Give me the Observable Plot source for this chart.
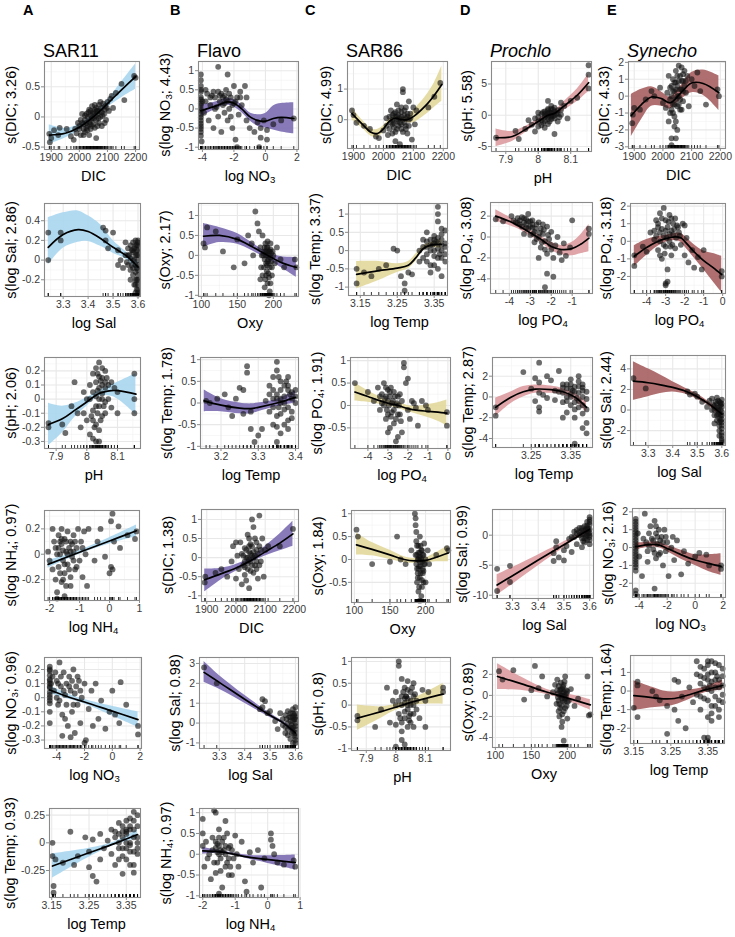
<!DOCTYPE html>
<html>
<head>
<meta charset="utf-8">
<script src="https://cdn.jsdelivr.net/npm/d3@7"></script>
<script src="https://cdn.jsdelivr.net/npm/@observablehq/plot@0.6"></script>
<style>
  body { margin: 0; background: #fff; }
  #fig { position: relative; width: 735px; height: 937px; overflow: hidden;
         font-family: "Liberation Sans", Arial, Helvetica, sans-serif; color: #000; }
  .lbl { position: absolute; white-space: nowrap; line-height: 1; }
  .tag { font-weight: bold; font-size: 14.5px; }
  .ttl { font-size: 18px; }
  .xt { font-size: 14.5px; transform: translate(-50%, -50%); }
  .yt { font-size: 14.5px; transform: translate(-50%, -50%) rotate(-90deg); }
  sub { font-size: 0.66em; vertical-align: -0.28em; line-height: 0; }
  svg { position: absolute; }
</style>
</head>
<body>
<div id="fig"></div>
<script>
// ---------- tick labels ----------
const dicTicks = [1900, 2000, 2100, 2200];
const no3Ticks = [-4, -2, 0, 2];
const salTicks = [3.3, 3.4, 3.5, 3.6];
const oxyTicks = [100, 150, 200];
const tempTicks = [3.15, 3.25, 3.35];
const tempTicksB = [3.2, 3.3, 3.4];
const tempTicksD = [3.25, 3.35];
const phTicks = [7.9, 8, 8.1];
const po4Ticks = [-4, -3, -2, -1, 0];
const po4TicksD = [-4, -3, -2, -1];
const nh4Ticks = [-2, -1, 0, 1];

// ---------- column headers ----------
const columnTags = ["A", "B", "C", "D", "E"];
const columnTaxa = ["SAR11", "Flavo", "SAR86", "Prochlo", "Synecho"];

// Each smooth: [x, fit, lower, upper]; each residual: [x, partial residual]

// ---------- SAR11 ----------
const sar11DicFit = [[1893,-0.30,-0.45,-0.13],[1950,-0.27,-0.35,-0.19],[2000,-0.17,-0.22,-0.12],[2050,0.0,-0.04,0.04],[2100,0.22,0.16,0.28],[2150,0.45,0.32,0.58],[2200,0.67,0.46,0.88]];
const sar11DicPts = [[1893,-0.28],[1895,-0.42],[1900,-0.35],[1910,-0.22],[1925,-0.3],[1930,-0.18],[1955,-0.2],[1970,-0.32],[1980,-0.38],[1985,-0.2],[1990,-0.27],[2000,-0.15],[2005,-0.3],[2010,-0.1],[2015,-0.2],[2020,-0.05],[2020,-0.25],[2025,0.05],[2030,-0.15],[2030,0.0],[2035,-0.08],[2040,0.1],[2040,-0.2],[2045,-0.02],[2050,0.08],[2050,-0.12],[2055,0.12],[2060,-0.05],[2060,0.15],[2065,0.05],[2070,-0.1],[2070,0.2],[2075,0.0],[2080,0.08],[2085,0.22],[2090,0.12],[2095,-0.05],[2100,0.25],[2105,0.1],[2110,0.3],[2115,0.35],[2120,0.15],[2130,0.4],[2150,0.55],[2160,0.28],[2195,0.68],[2200,0.65],[2060,-0.35],[2045,0.18],[2000,-0.2],[2035,-0.3],[2010,0.05],[2080,-0.15],[2025,-0.1],[2055,-0.18],[2065,0.1],[2040,0.03],
  [2005,-0.05],[2015,-0.12],[2020,0.02],[2028,-0.22],[2032,0.08],[2038,-0.12],[2042,-0.05],[2048,0.05],[2052,-0.02],[2058,0.02],[2062,0.1],[2068,-0.02],[2072,0.1],[2078,0.15],[2082,0.02],[2088,0.05],[2092,0.18],[2098,0.15],[2035,0.12],[2025,-0.18],[2045,-0.15],[2055,0.2],[2075,0.25],[2090,-0.1],[2015,-0.3],[1995,-0.1],[2065,-0.15]];

const sar11SalFit = [[3.24,0.13,-0.05,0.43],[3.3,0.26,0.12,0.48],[3.36,0.31,0.18,0.5],[3.4,0.29,0.19,0.45],[3.45,0.22,0.14,0.36],[3.5,0.13,0.07,0.2],[3.55,0.05,0.01,0.09],[3.6,-0.07,-0.12,-0.02]];
const sar11SalPts = [[3.24,0.28],[3.24,0.0],[3.29,0.28],[3.29,0.2],[3.46,0.33],[3.47,0.3],[3.47,0.2],[3.5,0.28],[3.52,0.1],[3.53,0.0],[3.55,0.18],[3.56,0.05],[3.56,-0.05],[3.57,0.15],[3.57,-0.1],[3.58,0.1],[3.58,0.0],[3.58,-0.15],[3.59,0.2],[3.59,0.05],[3.59,-0.05],[3.59,-0.2],[3.6,0.15],[3.6,0.05],[3.6,-0.05],[3.6,-0.15],[3.6,-0.25],[3.6,-0.33],[3.595,-0.3],[3.59,-0.12],[3.58,0.08],[3.57,0.02],[3.54,-0.08],[3.48,0.12],[3.52,-0.05],[3.6,0.2],[3.595,0.1],[3.585,-0.25],[3.6,-0.1],
  [3.6,0.1],[3.6,0.0],[3.6,-0.2],[3.6,-0.3],[3.595,-0.2],[3.595,-0.08],[3.595,0.05],[3.59,0.15],[3.59,-0.25],[3.585,0.12],[3.585,0.0],[3.58,-0.08],[3.58,0.18],[3.575,-0.05],[3.575,0.1],[3.57,-0.2],[3.565,0.05],[3.56,0.12],[3.555,-0.02],[3.55,0.05],[3.6,-0.35],[3.59,-0.33],[3.6,0.18],[3.595,0.15]];

const sar11PhFit = [[7.875,-0.18,-0.33,-0.03],[7.92,-0.14,-0.24,-0.05],[7.96,-0.08,-0.13,-0.03],[8.0,-0.02,-0.05,0.01],[8.04,0.04,0.02,0.06],[8.08,0.06,0.02,0.1],[8.1,0.06,0.0,0.12],[8.13,0.05,-0.05,0.15],[8.16,0.035,-0.11,0.18]];
const sar11PhPts = [[7.875,-0.2],[7.875,-0.17],[7.92,-0.18],[7.93,-0.24],[7.95,-0.05],[7.96,0.12],[7.97,-0.1],[7.98,-0.2],[7.99,0.05],[8.0,-0.15],[8.0,0.0],[8.01,-0.25],[8.01,0.1],[8.02,-0.08],[8.02,0.18],[8.03,0.02],[8.03,-0.3],[8.03,-0.18],[8.04,0.08],[8.04,0.26],[8.04,-0.05],[8.05,0.15],[8.05,-0.12],[8.05,0.04],[8.06,0.2],[8.06,-0.02],[8.07,0.1],[8.08,-0.06],[8.09,0.08],[8.1,0.05],[8.1,-0.1],[8.155,0.18],[8.155,0.0],[8.155,-0.1],[8.02,-0.28],[8.04,-0.22],[8.06,0.12],[8.03,0.22],[8.045,0.13],[8.035,-0.1],
  [8.01,0.0],[8.015,-0.12],[8.02,0.05],[8.025,-0.2],[8.03,0.12],[8.035,0.06],[8.04,0.0],[8.04,0.16],[8.045,-0.15],[8.05,0.1],[8.05,0.22],[8.055,-0.05],[8.06,0.08],[8.065,0.15],[8.07,0.0],[8.03,-0.05],[8.02,-0.15],[8.04,-0.3],[8.06,-0.1],[8.05,0.0],[8.035,0.18],[7.99,-0.1],[8.08,0.12]];

const sar11Nh4Fit = [[-2.05,-0.08,-0.11,-0.05],[-1,0.015,0.0,0.03],[0,0.105,0.08,0.13],[0.9,0.185,0.14,0.23]];
const sar11Nh4Pts = [[-2.05,0.02],[-2.0,-0.05],[-1.9,-0.12],[-1.85,0.1],[-1.8,-0.2],[-1.8,0.05],[-1.75,-0.3],[-1.7,0.15],[-1.7,-0.1],[-1.65,0.0],[-1.6,-0.22],[-1.6,0.08],[-1.55,-0.05],[-1.5,0.12],[-1.5,-0.15],[-1.45,0.02],[-1.4,0.18],[-1.4,-0.08],[-1.35,0.05],[-1.3,-0.25],[-1.3,0.1],[-1.25,-0.02],[-1.2,0.15],[-1.15,-0.12],[-1.1,0.05],[-1.05,0.2],[-1.0,-0.05],[-0.95,0.1],[-0.9,-0.18],[-0.85,0.18],[-0.8,0.0],[-0.75,-0.25],[-0.7,0.2],[-0.5,-0.05],[-0.4,0.1],[-0.3,0.2],[-0.15,-0.02],[0.0,-0.15],[0.05,0.26],[0.05,-0.1],[0.1,0.32],[0.1,-0.12],[0.15,0.1],[0.3,0.22],[0.35,0.05],[0.6,0.15],[0.85,0.12],[0.9,0.18],[-1.75,-0.35],[-1.5,-0.33],[-1.9,0.2],[-1.6,0.2],
  [-1.75,0.0],[-1.7,0.05],[-1.65,-0.15],[-1.6,0.12],[-1.55,0.03],[-1.5,-0.08],[-1.45,0.1],[-1.4,0.0],[-1.35,-0.12],[-1.3,0.02],[-1.25,0.08],[-1.2,-0.05],[-1.15,0.1],[-1.1,-0.1],[-1.55,-0.2],[-1.45,-0.25],[-1.3,-0.18],[-1.65,0.1],[-1.2,0.02],[-0.9,0.05]];

const sar11No3Fit = [[-4.5,0.055,0.03,0.085],[-3,0.0,-0.015,0.02],[-2,-0.03,-0.045,-0.012],[0,-0.095,-0.13,-0.06],[1.85,-0.155,-0.21,-0.1]];
const sar11No3Pts = [[-4.5,0.22],[-4.5,0.19],[-4.5,0.16],[-4.5,0.13],[-4.5,0.1],[-4.5,0.07],[-4.5,0.04],[-4.5,0.0],[-4.5,-0.04],[-4.5,-0.1],[-4.5,-0.18],[-4.3,0.15],[-4.2,0.05],[-4.0,0.12],[-3.9,-0.05],[-3.8,0.25],[-3.7,0.08],[-3.6,-0.12],[-3.5,0.18],[-3.4,0.02],[-3.3,0.1],[-3.2,-0.2],[-3.1,0.15],[-3.0,-0.28],[-3.0,0.05],[-2.9,-0.1],[-2.8,0.2],[-2.7,-0.25],[-2.6,0.08],[-2.5,-0.05],[-2.4,0.12],[-2.3,-0.18],[-2.2,0.0],[-2.0,0.1],[-1.9,-0.3],[-1.7,-0.08],[-1.5,0.05],[-1.4,-0.2],[-1.2,0.1],[-1.0,-0.15],[-0.8,-0.02],[-0.5,-0.22],[-0.2,-0.1],[0.0,0.05],[0.2,-0.12],[0.5,-0.18],[0.6,0.11],[1.0,-0.05],[1.85,-0.2],[1.85,-0.26],[-2.0,-0.32],[-3.6,-0.27],
  [-4.5,0.2],[-4.5,0.12],[-4.5,0.08],[-4.5,0.02],[-4.5,-0.02],[-4.4,0.1],[-4.1,0.18],[-3.9,0.1],[-3.7,0.15],[-3.5,0.05],[-3.3,-0.05],[-3.1,0.08],[-2.9,0.12],[-2.7,0.03],[-2.5,0.15],[-2.3,0.05],[-3.8,-0.02],[-3.4,-0.15],[-2.8,-0.05],[-4.0,0.0]];

const sar11TempFit = [[3.152,-0.21,-0.32,-0.1],[3.25,-0.09,-0.13,-0.05],[3.32,-0.005,-0.02,0.01],[3.38,0.075,0.04,0.12]];
const sar11TempPts = [[3.152,0.0],[3.152,-0.12],[3.155,-0.45],[3.155,-0.39],[3.16,-0.15],[3.18,-0.18],[3.2,0.1],[3.21,-0.2],[3.22,-0.12],[3.24,0.05],[3.25,-0.08],[3.25,-0.22],[3.26,0.03],[3.26,-0.3],[3.27,-0.35],[3.28,-0.15],[3.28,0.08],[3.29,-0.05],[3.3,0.02],[3.31,0.12],[3.31,-0.1],[3.32,0.05],[3.32,-0.2],[3.33,0.18],[3.33,-0.05],[3.34,0.1],[3.34,-0.28],[3.35,0.2],[3.35,0.0],[3.35,-0.15],[3.36,0.12],[3.36,-0.08],[3.37,0.28],[3.37,0.05],[3.37,-0.2],[3.38,0.15],[3.38,-0.05],[3.38,0.25],[3.36,0.22],[3.34,-0.12],[3.37,-0.27],[3.33,0.08],[3.35,0.1],[3.36,-0.02],
  [3.33,0.0],[3.34,0.05],[3.34,0.15],[3.35,0.08],[3.35,-0.05],[3.36,0.0],[3.36,0.15],[3.37,0.12],[3.37,-0.08],[3.38,0.05],[3.38,-0.1],[3.35,0.12],[3.33,-0.15],[3.36,-0.2],[3.32,0.1],[3.37,0.2],[3.38,0.0],[3.34,-0.05]];

// ---------- Flavo ----------
const flavoNo3Fit = [[-4.1,-0.05,-0.2,0.1],[-3,0.1,0.02,0.2],[-2.5,0.18,0.1,0.28],[-2,0.15,0.05,0.25],[-1.5,0.0,-0.1,0.1],[-1,-0.2,-0.3,-0.1],[-0.5,-0.3,-0.45,-0.15],[0,-0.32,-0.5,-0.12],[0.5,-0.25,-0.55,0.08],[1,-0.22,-0.6,0.14],[1.8,-0.25,-0.65,0.16]];
const flavoNo3Pts = [[-4.1,0.9],[-4.1,0.6],[-4.1,0.45],[-4.1,0.3],[-4.1,0.15],[-4.1,0.0],[-4.1,-0.15],[-4.1,-0.3],[-4.1,-0.45],[-4.1,-0.6],[-4.1,-0.7],[-4.05,-0.85],[-4.0,0.2],[-3.9,-0.1],[-3.8,0.5],[-3.7,0.4],[-3.6,-0.3],[-3.5,0.1],[-3.4,0.35],[-3.3,-0.5],[-3.2,0.3],[-3.1,0.05],[-3.0,0.45],[-3.0,-0.2],[-2.9,0.2],[-2.8,0.4],[-2.8,-0.6],[-2.7,0.1],[-2.6,0.35],[-2.6,-0.1],[-2.5,0.5],[-2.5,0.25],[-2.4,-0.3],[-2.3,0.0],[-2.2,0.3],[-2.1,-0.5],[-2.0,0.6],[-2.0,0.15],[-1.9,-0.8],[-1.8,0.3],[-1.7,-0.15],[-1.6,0.45],[-1.5,0.1],[-1.3,0.6],[-1.2,0.3],[-1.2,-0.3],[-1.0,-0.5],[-0.7,-0.6],[-0.5,-0.35],[-0.3,-0.5],[-0.3,-0.75],[0.1,-0.55],[0.1,-0.8],[-0.1,-0.3],[0.5,-0.4],[1.0,-0.3],[1.8,-0.25],[-3.0,1.1],[-2.4,0.9],[-1.8,-1.0],[-0.4,-1.0],
  [-4.1,0.75],[-4.1,0.5],[-4.1,0.25],[-4.1,0.1],[-4.1,-0.05],[-4.1,-0.22],[-4.1,-0.38],[-4.1,-0.52],[-3.8,0.2],[-3.5,0.3],[-3.2,0.0],[-2.9,0.35],[-2.7,0.3],[-2.6,0.15],[-2.4,0.2],[-2.3,0.4],[-2.1,0.1],[-1.9,0.2],[-1.6,0.3],[-3.3,0.45],[-2.2,-0.2]];

const flavoOxyFit = [[103,0.48,0.2,0.8],[125,0.5,0.32,0.7],[150,0.4,0.28,0.55],[170,0.22,0.12,0.32],[190,0.02,-0.07,0.1],[210,-0.17,-0.3,-0.03],[232,-0.3,-0.55,-0.05]];
const flavoOxyPts = [[103,0.3],[105,0.2],[108,0.7],[120,0.6],[150,0.4],[165,0.5],[170,0.3],[172,0.0],[175,1.1],[178,0.8],[180,0.6],[182,0.2],[183,-0.3],[185,0.5],[185,-0.5],[187,0.1],[188,-0.1],[189,0.3],[190,-0.2],[190,0.0],[191,-0.4],[192,0.2],[192,-0.7],[193,-0.1],[194,0.1],[195,-0.3],[195,-0.9],[196,0.3],[197,-0.15],[198,-0.5],[200,0.0],[202,-0.2],[205,0.2],[210,-0.1],[215,-0.3],[230,-0.1],[232,-0.3],[145,-0.3],[160,-0.2],[130,0.1],[191,0.1],[194,-0.55],[196,-0.05],[189,-0.6],
  [186,0.0],[187,-0.3],[188,0.2],[189,0.1],[190,-0.5],[191,0.2],[191,-0.25],[192,0.35],[192,-0.15],[193,0.0],[193,-0.45],[194,-0.2],[195,0.1],[196,-0.7],[196,0.15],[197,0.05],[198,-0.3],[199,0.1],[188,-0.8],[194,-1.0],[184,0.0],[182,-0.6]];

const flavoTempFit = [[3.155,0.05,-0.2,0.3],[3.2,-0.05,-0.2,0.1],[3.25,-0.12,-0.25,0.0],[3.28,-0.13,-0.25,-0.02],[3.3,-0.1,-0.2,0.0],[3.35,0.0,-0.08,0.08],[3.4,0.13,0.0,0.28]];
const flavoTempPts = [[3.16,0.05],[3.17,0.0],[3.19,0.1],[3.21,0.2],[3.22,-0.1],[3.23,-0.3],[3.24,0.1],[3.25,0.35],[3.26,-0.25],[3.26,0.3],[3.27,0.85],[3.27,0.7],[3.28,-0.6],[3.28,-0.2],[3.29,-0.9],[3.3,-0.75],[3.31,-0.6],[3.32,0.05],[3.33,0.4],[3.33,-0.2],[3.34,0.6],[3.34,0.1],[3.34,-0.5],[3.35,0.95],[3.35,0.75],[3.35,0.2],[3.35,-0.3],[3.36,0.0],[3.36,-0.7],[3.37,0.4],[3.37,-0.15],[3.38,0.3],[3.38,-0.4],[3.39,0.1],[3.39,-0.2],[3.4,0.3],[3.4,0.0],[3.35,-0.9],[3.36,0.5],[3.38,0.6],[3.37,-0.5],[3.355,-0.1],[3.385,0.2],
  [3.34,-0.1],[3.35,0.1],[3.35,-0.55],[3.36,0.3],[3.36,-0.25],[3.37,0.15],[3.37,0.0],[3.38,-0.1],[3.38,0.4],[3.39,0.25],[3.39,-0.35],[3.4,0.15],[3.33,0.2],[3.34,0.3],[3.36,0.1],[3.38,-0.6],[3.355,0.6],[3.375,0.5]];

const flavoDicFit = [[1893,-0.58,-0.9,-0.3],[1950,-0.42,-0.58,-0.28],[2000,-0.27,-0.36,-0.18],[2050,-0.08,-0.14,-0.02],[2100,0.15,0.04,0.3],[2150,0.38,0.18,0.62],[2195,0.62,0.3,0.95]];
const flavoDicPts = [[1893,-0.65],[1895,-0.5],[1930,-0.4],[1950,-0.3],[1970,-0.5],[1985,-0.1],[1990,0.3],[2000,-0.55],[2005,0.05],[2010,-0.3],[2015,0.4],[2020,-0.7],[2020,0.1],[2025,-0.2],[2030,0.25],[2030,-0.45],[2035,0.0],[2040,0.6],[2040,-0.3],[2045,0.15],[2045,-0.8],[2050,0.35],[2050,-0.1],[2055,1.0],[2055,0.05],[2060,-0.4],[2065,0.5],[2065,-0.2],[2070,0.2],[2075,-0.55],[2080,1.1],[2080,0.3],[2085,-0.1],[2090,0.5],[2095,-0.5],[2100,0.2],[2110,0.3],[2150,0.3],[2195,0.75],[2000,0.4],[2060,0.8],[2035,-0.6],[2045,-0.05],[2070,-0.1],
  [2025,0.05],[2030,-0.1],[2035,0.2],[2040,0.0],[2040,-0.15],[2045,0.3],[2050,0.1],[2050,-0.35],[2055,-0.2],[2060,0.15],[2060,0.0],[2065,0.05],[2070,-0.3],[2070,0.4],[2075,0.1],[2080,-0.2],[2085,0.2],[2045,0.5],[2030,-0.25],[2055,0.3]];

const flavoSalFit = [[3.24,2.55,2.05,3.1],[3.3,2.05,1.7,2.4],[3.4,1.2,1.0,1.4],[3.5,0.39,0.28,0.5],[3.55,0.02,-0.05,0.1],[3.6,-0.5,-0.65,-0.35]];
const flavoSalPts = [[3.24,2.8],[3.29,2.0],[3.46,0.7],[3.47,1.2],[3.47,0.8],[3.48,1.1],[3.49,0.5],[3.5,0.6],[3.52,0.1],[3.53,-0.3],[3.54,0.5],[3.55,0.2],[3.55,-0.1],[3.56,0.4],[3.56,-0.5],[3.57,0.0],[3.57,0.6],[3.58,-0.2],[3.58,0.3],[3.58,-0.8],[3.59,0.1],[3.59,0.7],[3.59,-0.4],[3.6,0.5],[3.6,0.0],[3.6,-0.3],[3.6,-0.7],[3.6,-1.0],[3.6,0.8],[3.59,-1.0],[3.58,0.5],[3.57,-0.6],[3.595,0.2],[3.585,-0.1],
  [3.6,0.3],[3.6,-0.15],[3.6,-0.5],[3.6,0.2],[3.595,-0.6],[3.595,0.4],[3.59,-0.2],[3.59,0.3],[3.585,-0.5],[3.58,0.1],[3.575,0.3],[3.57,-0.3],[3.565,0.2],[3.56,-0.2],[3.6,-0.85],[3.59,0.5]];

const flavoNh4Fit = [[-2.0,0.08,0.0,0.16],[-1.4,0.05,0.02,0.08],[-0.5,-0.08,-0.13,-0.03],[0.85,-0.2,-0.38,-0.02]];
const flavoNh4Pts = [[-2.0,0.85],[-2.0,0.5],[-2.0,0.2],[-1.95,-0.3],[-1.9,0.3],[-1.85,-0.1],[-1.8,0.0],[-1.75,-0.6],[-1.7,0.4],[-1.65,1.05],[-1.6,1.0],[-1.6,0.15],[-1.55,-0.2],[-1.5,0.6],[-1.5,0.0],[-1.45,-0.4],[-1.4,0.3],[-1.4,-0.8],[-1.35,0.1],[-1.3,-0.3],[-1.25,0.5],[-1.2,-0.1],[-1.15,0.2],[-1.1,-0.5],[-1.0,0.45],[-0.95,0.0],[-0.9,-0.3],[-0.8,0.3],[-0.7,-0.65],[-0.65,-0.9],[-0.55,0.05],[-0.45,-0.2],[-0.3,0.1],[-0.2,-0.8],[-0.1,-0.1],[0.1,0.5],[0.1,0.35],[0.15,0.2],[0.2,0.0],[0.3,-0.2],[0.5,-0.25],[0.8,-0.15],[0.85,-0.3],[-1.5,-0.95],[-1.3,0.8],[-1.55,0.25],[-1.45,0.1],
  [-1.7,0.1],[-1.65,-0.2],[-1.6,0.3],[-1.55,0.05],[-1.5,0.2],[-1.45,-0.1],[-1.4,0.05],[-1.35,0.4],[-1.3,0.0],[-1.25,-0.2],[-1.2,0.15],[-1.15,-0.3],[-1.1,0.1],[-1.05,-0.1],[-1.6,-0.45],[-1.5,0.4],[-1.3,0.2],[-1.2,-0.5]];

// ---------- SAR86 ----------
const sar86DicFit = [[1895,0.2,0.0,0.38],[1930,-0.15,-0.28,-0.02],[1960,-0.42,-0.55,-0.3],[1980,-0.45,-0.58,-0.32],[2000,-0.3,-0.4,-0.2],[2020,-0.05,-0.12,0.02],[2040,0.05,0.0,0.1],[2060,0.0,-0.06,0.06],[2080,0.0,-0.1,0.1],[2100,0.1,-0.1,0.3],[2140,0.45,0.15,0.75],[2170,0.8,0.4,1.2],[2195,1.15,0.6,1.75]];
const sar86DicPts = [[1895,0.3],[1900,0.15],[1910,-0.1],[1935,-0.2],[1955,-0.3],[1975,-0.55],[1985,-0.6],[2000,-0.35],[2010,-0.2],[2015,-0.5],[2020,0.1],[2020,-0.3],[2025,0.3],[2030,0.0],[2030,-0.15],[2035,0.2],[2040,-0.4],[2040,0.1],[2045,-0.05],[2050,0.3],[2050,-0.2],[2055,0.05],[2060,0.25],[2060,-0.3],[2065,1.0],[2065,0.9],[2070,0.15],[2070,-0.1],[2075,0.4],[2080,-0.45],[2080,0.2],[2085,0.6],[2085,-0.2],[2090,0.05],[2095,-0.65],[2100,0.4],[2105,-0.15],[2110,0.3],[2150,0.4],[2170,0.75],[2190,1.2],[2040,-0.7],[2055,-0.8],[2010,0.05],[2045,0.5],[2035,-0.1],[2060,0.1],[2075,-0.3],
  [2025,-0.1],[2030,0.15],[2035,-0.25],[2040,0.25],[2045,0.1],[2050,0.0],[2050,0.15],[2055,-0.1],[2060,-0.15],[2060,0.4],[2065,0.0],[2070,0.3],[2075,0.05],[2075,-0.2],[2080,0.1],[2085,0.0],[2090,0.2],[2045,-0.3],[2030,-0.45],[2065,-0.4]];

const sar86TempFit = [[3.14,-0.65,-1.05,-0.3],[3.2,-0.55,-0.82,-0.3],[3.25,-0.48,-0.6,-0.36],[3.28,-0.4,-0.5,-0.3],[3.3,-0.2,-0.3,-0.1],[3.32,0.05,-0.02,0.12],[3.34,0.15,0.08,0.22],[3.37,0.17,0.05,0.3]];
const sar86TempPts = [[3.14,-0.5],[3.14,-0.9],[3.16,-0.6],[3.18,-0.7],[3.2,-0.5],[3.22,-0.4],[3.24,0.05],[3.25,0.0],[3.26,-0.7],[3.27,-0.9],[3.27,-1.1],[3.28,-0.6],[3.29,-0.65],[3.31,-0.3],[3.31,0.0],[3.32,0.3],[3.32,-0.2],[3.33,0.5],[3.33,0.1],[3.34,-0.4],[3.34,0.3],[3.35,0.0],[3.35,-0.15],[3.35,0.4],[3.36,0.2],[3.36,-0.5],[3.36,1.2],[3.36,1.0],[3.37,0.6],[3.37,-0.2],[3.37,0.3],[3.38,0.1],[3.38,-0.3],[3.38,0.55],[3.33,-0.3],[3.34,-0.6],[3.36,0.8],[3.37,-0.7],[3.345,0.15],[3.355,0.25],[3.365,-0.1],
  [3.33,0.25],[3.34,0.0],[3.34,0.15],[3.35,0.2],[3.35,0.3],[3.36,0.05],[3.36,-0.2],[3.37,0.0],[3.37,0.45],[3.38,0.2],[3.38,-0.1],[3.35,-0.4],[3.33,-0.1],[3.36,0.35],[3.37,0.15],[3.32,0.1]];

const sar86Po4Fit = [[-4.65,0.3,0.1,0.5],[-4,0.2,0.07,0.33],[-3.5,0.12,0.03,0.21],[-3,0.05,-0.02,0.12],[-2.5,0.0,-0.06,0.07],[-2,-0.07,-0.14,0.0],[-1.5,-0.11,-0.2,-0.02],[-1,-0.13,-0.27,0.02],[-0.5,-0.15,-0.35,0.06],[-0.05,-0.17,-0.45,0.12]];
const sar86Po4Pts = [[-4.65,0.5],[-4.0,0.3],[-3.7,0.1],[-3.5,0.4],[-3.4,-0.1],[-3.3,0.25],[-3.2,0.5],[-3.2,0.0],[-3.1,-0.3],[-3.0,0.35],[-3.0,0.1],[-2.9,-0.5],[-2.9,0.2],[-2.8,-0.15],[-2.8,0.05],[-2.7,0.3],[-2.7,-0.4],[-2.6,0.0],[-2.5,-0.7],[-2.5,0.2],[-2.4,-0.2],[-2.3,0.1],[-2.2,0.95],[-2.2,0.85],[-2.1,0.5],[-2.0,0.6],[-2.0,-0.1],[-1.9,-0.3],[-1.8,0.1],[-1.7,0.05],[-1.6,-0.05],[-1.5,-0.45],[-1.3,0.1],[-1.1,0.0],[-1.0,-0.1],[-0.05,-0.45],[-0.05,-0.15],[-2.6,-0.8],[-3.0,-0.6],[-2.3,-0.6],[-3.1,0.2],[-2.85,0.4],
  [-3.3,0.05],[-3.1,0.4],[-3.05,-0.1],[-2.95,0.0],[-2.9,0.3],[-2.85,-0.25],[-2.75,0.1],[-2.65,0.2],[-2.6,-0.3],[-2.55,0.05],[-2.45,0.0],[-2.4,0.25],[-2.35,-0.35],[-3.15,0.15],[-2.7,-0.1],[-2.5,-0.2],[-3.4,0.2],[-3.0,-0.2]];

const sar86OxyFit = [[103,0.32,0.1,0.58],[125,0.22,0.08,0.37],[150,0.1,0.0,0.2],[170,0.0,-0.07,0.06],[185,-0.03,-0.08,0.02],[200,-0.02,-0.07,0.03],[215,0.05,-0.05,0.15],[232,0.14,-0.05,0.3]];
const sar86OxyPts = [[103,0.65],[105,0.5],[125,-0.1],[150,-0.05],[160,0.5],[165,0.0],[172,-0.1],[180,0.2],[185,1.0],[186,0.9],[186,0.75],[187,0.4],[188,0.1],[188,-0.2],[189,-0.4],[190,0.3],[190,0.0],[191,-0.6],[191,-0.15],[192,0.15],[193,-0.3],[193,0.05],[194,-0.8],[194,0.2],[195,-0.05],[195,-0.45],[196,0.1],[197,-0.25],[198,0.35],[199,-0.1],[200,0.0],[200,-0.5],[203,0.2],[205,-0.1],[215,0.1],[230,0.25],[232,0.2],[192,-0.9],[190,-0.7],[187,0.6],[192,-0.05],[196,-0.2],
  [186,0.1],[187,-0.1],[188,0.3],[189,0.0],[189,-0.3],[190,0.15],[190,-0.2],[191,0.05],[192,-0.4],[193,0.3],[193,-0.15],[194,0.0],[195,0.2],[196,-0.3],[197,0.1],[198,-0.1],[192,0.5],[195,-0.6],[188,-0.5],[197,-0.5]];

const sar86PhFit = [[7.87,-0.3,-0.58,0.0],[7.95,-0.15,-0.3,-0.04],[8.0,-0.05,-0.12,0.02],[8.04,0.04,-0.03,0.1],[8.1,0.15,0.02,0.28],[8.16,0.25,0.02,0.5]];
const sar86PhPts = [[7.87,-0.25],[7.87,-0.35],[7.93,-0.5],[7.95,-0.1],[7.97,0.4],[7.98,-0.4],[7.99,0.1],[8.0,-0.45],[8.0,0.3],[8.01,1.0],[8.01,0.9],[8.01,-0.2],[8.02,0.2],[8.02,-0.6],[8.02,-0.8],[8.03,0.05],[8.03,0.4],[8.03,-0.3],[8.04,0.15],[8.04,-0.1],[8.04,0.55],[8.05,-0.2],[8.05,0.3],[8.05,0.0],[8.06,-0.5],[8.06,0.2],[8.07,0.1],[8.08,-0.3],[8.09,0.35],[8.1,-0.5],[8.1,0.1],[8.11,0.3],[8.16,0.4],[8.16,0.3],[8.0,-0.95],[8.03,-0.9],[8.06,0.5],[8.02,0.6],[8.035,0.2],[8.045,-0.35],
  [8.01,0.1],[8.015,-0.3],[8.02,0.0],[8.025,0.3],[8.03,-0.15],[8.035,0.2],[8.04,0.0],[8.04,0.35],[8.045,-0.25],[8.05,0.1],[8.055,0.4],[8.06,-0.2],[8.06,0.0],[8.065,0.25],[8.07,-0.1],[8.02,-0.4],[8.04,-0.5],[8.05,-0.4],[8.03,0.15],[8.0,0.0]];

// ---------- Prochlo ----------
const prochloPhFit = [[7.87,-3.6,-5.0,-2.2],[7.92,-3.4,-4.2,-2.6],[7.96,-2.3,-2.8,-1.8],[8.0,-1.0,-1.4,-0.6],[8.03,0.0,-0.3,0.3],[8.05,0.3,-0.1,0.7],[8.08,1.5,0.8,2.2],[8.12,3.2,2.2,4.2],[8.155,5.2,3.8,6.6]];
const prochloPhPts = [[7.87,-3.6],[7.93,-2.5],[7.94,-3.8],[7.96,-2.2],[7.97,-0.8],[7.98,-1.5],[7.99,-0.5],[8.0,-1.8],[8.0,-1.0],[8.01,0.2],[8.01,-0.8],[8.02,-0.3],[8.02,0.6],[8.03,1.0],[8.03,-0.2],[8.03,-1.4],[8.04,0.4],[8.04,1.5],[8.04,-0.6],[8.05,0.0],[8.05,1.2],[8.06,-1.0],[8.06,0.8],[8.07,2.0],[8.07,0.1],[8.08,1.5],[8.09,-0.5],[8.1,2.3],[8.12,2.8],[8.155,8.0],[8.155,6.5],[8.155,4.3],[8.02,-2.0],[7.99,-2.6],[8.05,-3.0],[8.0,0.4],[8.03,2.3],[8.035,0.5],[8.045,-0.2],[8.015,-1.2],
  [8.0,-0.3],[8.01,-1.6],[8.015,0.5],[8.02,-0.9],[8.025,0.0],[8.03,-0.6],[8.03,0.8],[8.035,-1.0],[8.04,0.0],[8.04,-0.2],[8.045,0.9],[8.05,-0.5],[8.05,0.6],[8.055,0.3],[8.06,0.2],[8.065,-0.3],[8.07,0.9],[8.02,0.2],[8.03,0.3],[8.04,1.0]];

const prochloPo4Fit = [[-4.65,2.0,1.5,2.6],[-4,1.5,1.1,1.9],[-3.5,1.0,0.7,1.3],[-3,0.4,0.1,0.7],[-2.5,-0.2,-0.5,0.1],[-2,-0.9,-1.3,-0.5],[-1.5,-1.2,-1.7,-0.8],[-1,-1.1,-1.8,-0.5],[-0.6,-0.7,-1.6,0.2],[-0.2,-0.1,-1.4,1.2]];
const prochloPo4Pts = [[-4.65,1.7],[-4.3,1.5],[-3.9,2.0],[-3.8,1.6],[-3.6,1.8],[-3.5,1.2],[-3.4,1.9],[-3.3,1.4],[-3.2,0.9],[-3.1,2.2],[-3.1,1.5],[-3.0,1.0],[-3.0,0.2],[-2.9,1.6],[-2.8,0.5],[-2.8,-0.5],[-2.7,1.2],[-2.6,0.0],[-2.5,0.8],[-2.5,-1.0],[-2.4,0.3],[-2.3,-0.4],[-2.2,1.0],[-2.2,-1.6],[-2.1,-0.2],[-2.0,-1.2],[-2.0,0.5],[-1.9,-2.0],[-1.8,-0.8],[-1.7,0.0],[-1.6,-1.5],[-1.5,-2.2],[-1.4,-0.6],[-1.3,-1.8],[-1.1,-1.0],[-1.0,1.6],[-0.2,0.8],[-0.2,0.3],[-2.3,-4.8],[-2.2,-3.5],[-1.9,-3.8],[-3.3,0.3],[-2.6,-2.0],[-3.2,1.7],[-2.9,0.9],
  [-3.7,1.4],[-3.5,1.6],[-3.4,1.0],[-3.3,1.8],[-3.2,1.2],[-3.1,0.8],[-3.0,1.5],[-2.9,1.2],[-2.85,0.3],[-2.75,0.8],[-2.7,-0.2],[-2.6,1.4],[-2.55,0.4],[-2.45,-0.5],[-2.35,0.7],[-2.3,-1.2],[-2.15,0.2],[-2.05,-0.7],[-3.6,1.3],[-2.4,1.2]];

const prochloTempFit = [[3.16,-1.0,-1.9,-0.1],[3.2,0.0,-0.6,0.5],[3.23,0.5,0.0,1.0],[3.26,0.75,0.35,1.15],[3.3,0.7,0.35,1.05],[3.33,0.5,0.2,0.8],[3.36,0.0,-0.35,0.35],[3.39,-1.0,-1.5,-0.5]];
const prochloTempPts = [[3.16,-1.0],[3.16,-1.8],[3.23,2.4],[3.25,0.8],[3.26,1.8],[3.26,-0.4],[3.27,3.3],[3.27,1.4],[3.27,0.4],[3.27,-1.0],[3.27,-1.4],[3.28,0.2],[3.29,2.0],[3.3,1.6],[3.31,-0.3],[3.32,2.5],[3.32,0.5],[3.33,1.2],[3.33,-0.5],[3.33,-2.0],[3.34,0.8],[3.34,0.0],[3.35,1.7],[3.35,-0.8],[3.35,0.3],[3.36,1.0],[3.36,-1.2],[3.36,-4.5],[3.37,2.0],[3.37,0.4],[3.37,-0.4],[3.38,1.2],[3.38,-1.6],[3.38,-3.0],[3.39,-0.2],[3.39,-2.5],[3.39,-3.5],[3.38,0.6],[3.34,-1.5],[3.31,0.6],[3.29,-0.1],[3.355,0.6],[3.365,-0.1],
  [3.33,0.4],[3.34,1.2],[3.34,-0.4],[3.35,0.8],[3.35,0.0],[3.36,0.5],[3.36,-0.5],[3.37,1.0],[3.37,-1.0],[3.38,0.0],[3.38,-0.8],[3.39,0.5],[3.39,-1.2],[3.36,-2.0],[3.35,1.2],[3.37,1.5],[3.33,0.9],[3.38,0.9]];

const prochloSalFit = [[3.24,-8.3,-10.0,-6.6],[3.3,-6.75,-8.2,-5.4],[3.4,-4.15,-5.1,-3.3],[3.5,-1.6,-2.1,-1.1],[3.55,-0.3,-0.65,0.05],[3.6,1.0,0.3,1.7]];
const prochloSalPts = [[3.24,-5.6],[3.24,-9.3],[3.29,-5.1],[3.29,-7.8],[3.46,-3.0],[3.46,-4.3],[3.47,-2.0],[3.47,-1.0],[3.48,-3.7],[3.5,-4.2],[3.5,-2.5],[3.51,-1.8],[3.52,-0.6],[3.53,-0.3],[3.54,0.6],[3.55,0.3],[3.55,-1.5],[3.56,0.0],[3.56,1.2],[3.57,-0.5],[3.57,0.8],[3.58,1.5],[3.58,0.2],[3.58,-1.2],[3.59,0.6],[3.59,2.2],[3.59,-0.8],[3.6,1.0],[3.6,3.0],[3.6,-0.3],[3.6,1.8],[3.6,-1.5],[3.53,-2.8],[3.57,-2.0],[3.595,0.3],[3.585,1.0],
  [3.56,0.5],[3.57,0.2],[3.57,1.2],[3.58,0.8],[3.58,-0.5],[3.59,0.0],[3.59,1.2],[3.59,1.6],[3.6,0.4],[3.6,2.2],[3.6,0.0],[3.6,-0.8],[3.595,1.0],[3.585,-0.2],[3.55,0.9],[3.54,-0.3],[3.575,-1.0],[3.6,2.6]];

const prochloOxyFit = [[103,1.8,0.55,3.0],[140,1.02,0.45,1.6],[170,0.35,0.1,0.6],[190,-0.05,-0.3,0.2],[210,-0.45,-0.8,0.0],[232,-0.9,-1.4,-0.4]];
const prochloOxyPts = [[105,2.3],[110,1.5],[125,2.4],[150,0.5],[155,2.8],[160,0.7],[165,1.8],[172,-0.1],[180,0.3],[183,1.0],[185,-0.8],[186,1.5],[187,0.2],[188,-0.5],[189,-2.0],[190,0.5],[190,-1.2],[191,1.2],[192,-0.3],[192,0.0],[193,-2.5],[194,0.8],[195,-1.5],[195,0.3],[196,-0.6],[197,1.8],[198,-0.1],[199,-1.0],[200,0.4],[200,-2.2],[202,-0.5],[205,0.6],[210,-1.0],[215,-0.3],[228,1.8],[230,-1.9],[232,-1.8],[195,-4.3],[192,-3.0],[140,-0.4],[193,0.6],[197,-0.3],
  [186,0.5],[187,-0.2],[188,0.9],[189,-0.8],[190,0.0],[191,0.6],[192,-1.0],[193,0.2],[194,-0.5],[195,1.0],[196,0.0],[197,-1.2],[198,0.5],[199,0.2],[200,-0.6],[193,-1.8],[188,-1.5],[196,1.3]];

// ---------- Synecho ----------
const synechoDicFit = [[1890,-1.15,-2.4,0.1],[1925,-0.5,-1.4,0.4],[1960,-0.05,-0.6,0.55],[1995,-0.15,-0.6,0.25],[2025,-0.4,-0.75,-0.05],[2060,0.15,-0.25,0.55],[2100,0.78,0.2,1.4],[2140,0.75,0.05,1.55],[2195,0.2,-0.85,1.2]];
const synechoDicPts = [[1893,-1.6],[1895,-1.1],[1900,-0.7],[1920,-0.8],[1940,-0.2],[1960,0.3],[1970,0.0],[1990,0.5],[2000,-0.4],[2010,-0.7],[2015,0.2],[2020,1.2],[2020,-1.5],[2025,0.5],[2025,-1.0],[2030,0.0],[2030,-2.5],[2030,-2.9],[2035,1.0],[2035,-0.5],[2040,0.3],[2040,-1.2],[2045,1.5],[2045,-0.2],[2050,0.6],[2050,-2.0],[2055,1.8],[2055,0.0],[2060,1.2],[2060,-0.8],[2065,1.7],[2065,0.4],[2070,0.9],[2070,-0.3],[2075,1.5],[2080,0.2],[2085,1.2],[2090,-0.6],[2100,1.0],[2110,0.6],[2120,1.4],[2130,0.3],[2150,-0.5],[2190,0.4],[2195,0.0],[2045,-2.5],[2040,0.8],[2050,-0.6],
  [2025,-0.2],[2030,0.6],[2035,-1.0],[2035,0.3],[2040,-0.5],[2045,0.8],[2045,0.4],[2050,0.0],[2050,1.2],[2055,-0.5],[2055,0.9],[2060,0.4],[2060,-0.2],[2065,0.9],[2070,0.3],[2070,1.3],[2075,0.6],[2080,0.9],[2040,-1.8],[2045,-1.5],[2030,-0.8],[2065,-0.8]];

const synechoPo4Fit = [[-4.65,-0.85,-1.45,-0.25],[-4,-0.35,-0.8,0.1],[-3.5,-0.05,-0.35,0.25],[-3,0.15,-0.05,0.35],[-2.5,0.25,0.05,0.45],[-2.2,0.2,-0.05,0.45],[-2,0.0,-0.3,0.3],[-1.5,-0.6,-0.95,-0.2],[-1,-1.1,-1.6,-0.55],[-0.5,-1.5,-2.3,-0.7],[-0.05,-1.9,-2.9,-0.85]];
const synechoPo4Pts = [[-4.65,-0.8],[-4.65,-1.4],[-4.2,-0.3],[-4.0,-0.6],[-3.8,0.5],[-3.6,0.1],[-3.5,1.2],[-3.4,-0.5],[-3.3,1.6],[-3.2,0.7],[-3.2,-1.0],[-3.1,1.9],[-3.1,0.3],[-3.0,1.2],[-3.0,-0.3],[-2.9,0.8],[-2.9,-1.6],[-2.8,1.5],[-2.8,0.0],[-2.7,-0.8],[-2.6,1.0],[-2.6,0.4],[-2.5,-0.4],[-2.4,0.9],[-2.3,0.5],[-2.2,-0.2],[-2.1,1.0],[-2.0,-0.8],[-1.9,0.2],[-1.8,-1.2],[-1.6,-0.5],[-1.5,-1.5],[-1.3,-0.9],[-1.1,-1.6],[-1.0,-0.5],[-0.05,-1.7],[-0.05,-2.0],[-3.0,-2.4],[-2.9,-2.3],[-3.0,-2.5],[-2.0,0.9],[-3.3,0.0],[-2.7,0.6],[-3.4,0.8],
  [-3.6,0.6],[-3.5,0.3],[-3.4,1.0],[-3.3,0.5],[-3.2,1.3],[-3.1,-0.2],[-3.0,0.6],[-2.95,0.2],[-2.85,1.1],[-2.8,0.4],[-2.7,1.3],[-2.65,-0.2],[-2.55,0.7],[-2.45,0.2],[-2.35,0.8],[-2.25,0.3],[-3.05,-0.7],[-2.75,-0.3],[-3.3,-0.8],[-2.5,1.3]];

const synechoSalFit = [[3.24,2.8,0.95,4.7],[3.3,2.65,1.3,4.0],[3.35,2.45,1.6,3.4],[3.4,2.2,1.75,2.75],[3.45,1.85,1.55,2.15],[3.5,1.3,1.05,1.55],[3.55,0.55,0.35,0.75],[3.6,-0.4,-0.8,-0.05]];
const synechoSalPts = [[3.24,3.1],[3.29,2.1],[3.46,1.8],[3.47,1.5],[3.49,1.6],[3.5,1.3],[3.52,0.8],[3.54,0.3],[3.55,0.9],[3.56,0.0],[3.56,1.1],[3.57,-0.5],[3.57,0.4],[3.58,1.2],[3.58,-1.0],[3.58,0.2],[3.59,-0.3],[3.59,-1.5],[3.59,0.8],[3.59,-2.0],[3.6,1.0],[3.6,0.3],[3.6,-0.5],[3.6,-1.2],[3.6,-1.8],[3.6,-3.0],[3.6,-3.2],[3.595,0.0],[3.59,-0.8],[3.57,-1.3],[3.6,-2.5],[3.58,0.6],[3.595,0.5],[3.585,-0.4],
  [3.6,0.6],[3.6,-0.2],[3.6,-0.9],[3.6,-1.5],[3.6,-2.2],[3.595,0.7],[3.595,-0.5],[3.595,-1.0],[3.59,0.3],[3.59,-1.2],[3.585,0.9],[3.585,0.0],[3.58,-0.5],[3.575,0.8],[3.57,0.0],[3.565,0.5],[3.6,-2.8],[3.59,-2.5]];

const synechoNo3Fit = [[-4.25,0.05,-0.15,0.25],[-3.5,0.15,0.0,0.3],[-3,0.18,0.03,0.33],[-2.5,0.12,-0.03,0.27],[-2,-0.05,-0.22,0.12],[-1,-0.4,-0.65,-0.15],[0,-0.7,-1.0,-0.4],[1,-0.9,-1.35,-0.4],[1.85,-1.05,-1.55,-0.35]];
const synechoNo3Pts = [[-4.25,1.6],[-4.25,1.3],[-4.25,1.0],[-4.25,0.7],[-4.25,0.4],[-4.25,0.1],[-4.25,-0.2],[-4.25,-0.5],[-4.25,-0.8],[-4.25,-1.1],[-4.25,-2.4],[-4.25,-2.6],[-4.1,0.8],[-4.0,-0.5],[-3.8,-1.6],[-3.6,1.9],[-3.5,0.3],[-3.4,-0.8],[-3.2,1.2],[-3.1,0.5],[-3.0,-0.1],[-2.9,1.5],[-2.8,0.8],[-2.8,-0.6],[-2.7,0.2],[-2.6,1.0],[-2.5,-0.3],[-2.4,0.6],[-2.3,-1.0],[-2.2,1.0],[-2.1,-0.2],[-2.0,0.3],[-1.9,-1.6],[-1.7,0.0],[-1.5,-0.7],[-1.3,0.4],[-1.0,-1.5],[-0.8,-0.2],[-0.5,-0.9],[0.0,-0.5],[0.3,-0.3],[0.8,-0.4],[1.0,-1.0],[1.85,-1.0],[1.85,-1.2],[-2.9,-2.3],[-1.6,0.6],[-3.3,0.1],[-2.6,-0.4],
  [-4.25,1.45],[-4.25,1.15],[-4.25,0.85],[-4.25,0.55],[-4.25,0.25],[-4.25,-0.05],[-4.25,-0.35],[-4.25,-0.65],[-4.25,-0.95],[-4.25,-1.3],[-3.7,0.5],[-3.3,0.8],[-3.0,0.4],[-2.9,-0.3],[-2.7,0.6],[-2.5,0.4],[-2.3,0.3],[-2.1,0.6],[-3.4,-0.2],[-2.8,1.2]];

const synechoTempFit = [[3.15,-0.25,-1.05,0.55],[3.2,-0.35,-0.9,0.2],[3.23,-0.42,-0.85,0.0],[3.26,-0.4,-0.75,-0.05],[3.3,-0.2,-0.45,0.05],[3.34,0.05,-0.1,0.2],[3.39,0.3,0.05,0.6]];
const synechoTempPts = [[3.15,-0.9],[3.16,-1.4],[3.16,0.5],[3.16,0.3],[3.2,0.0],[3.21,-0.3],[3.22,-0.5],[3.24,-0.8],[3.26,0.6],[3.26,-1.0],[3.27,0.5],[3.27,-1.6],[3.28,-0.3],[3.29,-2.0],[3.3,0.2],[3.31,-0.6],[3.32,1.6],[3.32,0.9],[3.32,-0.2],[3.33,1.3],[3.33,0.4],[3.33,-1.0],[3.34,-0.4],[3.34,0.7],[3.35,1.4],[3.35,0.9],[3.35,0.1],[3.35,-1.4],[3.35,-2.5],[3.35,-2.7],[3.36,0.5],[3.36,-0.8],[3.36,1.6],[3.37,0.2],[3.37,-0.3],[3.37,1.0],[3.38,-1.0],[3.38,0.6],[3.38,-0.5],[3.39,0.3],[3.39,-0.2],[3.39,1.2],[3.34,-2.5],[3.36,-1.6],[3.24,-2.3],[3.355,0.3],[3.375,0.8],
  [3.33,0.8],[3.34,0.2],[3.34,1.2],[3.35,-0.5],[3.35,0.6],[3.36,0.0],[3.36,1.0],[3.37,0.6],[3.37,-0.8],[3.38,0.2],[3.38,1.4],[3.39,0.8],[3.39,-0.6],[3.35,1.6],[3.33,-0.3],[3.36,-1.2],[3.38,-1.4],[3.37,1.5]];

// ---------- confidence band colours per taxon ----------
const bandColors = ["#a9d6ef", "#7b6cb1", "#e2d79b", "#dc9b9e", "#a65e5f"];

// ---------- panel layout: [left, top, right, bottom] of each plotting frame ----------
const panels = [
  // SAR11
  {c:0, box:[44,61,139,149],  pts:sar11DicPts,  fit:sar11DicFit,  xd:[1876,2214], xt:dicTicks, yd:[-0.54,0.92], yt:[-0.5,0,0.5], xl:"DIC", yl:"s(DIC; 3.26)"},
  {c:0, box:[44,203,140,296], pts:sar11SalPts,  fit:sar11SalFit,  xd:[3.225,3.61], xt:salTicks, yd:[-0.37,0.575], yt:[-0.2,0,0.2,0.4], xl:"log Sal", yl:"s(log Sal; 2.86)"},
  {c:0, box:[44,357,140,448], pts:sar11PhPts,   fit:sar11PhFit,   xd:[7.862,8.175], xt:phTicks, yd:[-0.35,0.295], yt:[-0.3,-0.2,-0.1,0,0.1,0.2], xl:"pH", yl:"s(pH; 2.06)"},
  {c:0, box:[44,510,139,600], pts:sar11Nh4Pts,  fit:sar11Nh4Fit,  xd:[-2.17,1.0], xt:nh4Ticks, yd:[-0.365,0.345], yt:[-0.2,0,0.2], xl:"log NH<sub>4</sub>", yl:"s(log NH<sub>4</sub>; 0.97)"},
  {c:0, box:[44,657,141,748], pts:sar11No3Pts,  fit:sar11No3Fit,  xd:[-4.88,2.1], xt:no3Ticks, yd:[-0.36,0.285], yt:[-0.3,-0.2,-0.1,0,0.1,0.2], xl:"log NO<sub>3</sub>", yl:"s(log NO<sub>3</sub>; 0.96)"},
  {c:0, box:[49,808,140,897], pts:sar11TempPts, fit:sar11TempFit, xd:[3.144,3.388], xt:tempTicks, yd:[-0.494,0.31], yt:[-0.25,0,0.25], xl:"log Temp", yl:"s(log Temp; 0.93)"},
  // Flavo
  {c:1, box:[198,61,298,149], pts:flavoNo3Pts,  fit:flavoNo3Fit,  xd:[-4.25,2.1], xt:no3Ticks, yd:[-1.06,1.24], yt:[-1,-0.5,0,0.5,1], xl:"log NO<sub>3</sub>", yl:"s(log NO<sub>3</sub>; 4.43)"},
  {c:1, box:[198,203,298,296], pts:flavoOxyPts, fit:flavoOxyFit,  xd:[96,235], xt:oxyTicks, yd:[-1.03,1.3], yt:[-1,-0.5,0,0.5,1], xl:"Oxy", yl:"s(Oxy; 2.17)"},
  {c:1, box:[200,357,298,448], pts:flavoTempPts, fit:flavoTempFit, xd:[3.145,3.408], xt:tempTicksB, yd:[-1.05,1.05], yt:[-1,-0.5,0,0.5,1], xl:"log Temp", yl:"s(log Temp; 1.78)"},
  {c:1, box:[201,509,298,601], pts:flavoDicPts,  fit:flavoDicFit,  xd:[1882,2214], xt:dicTicks, yd:[-1.15,1.26], yt:[-1,-0.5,0,0.5,1], xl:"DIC", yl:"s(DIC; 1.38)"},
  {c:1, box:[199,657,298,748], pts:flavoSalPts,  fit:flavoSalFit,  xd:[3.222,3.612], xt:salTicks, yd:[-1.28,3.3], yt:[-1,0,1,2,3], xl:"log Sal", yl:"s(log Sal; 0.98)"},
  {c:1, box:[199,808,298,897], pts:flavoNh4Pts,  fit:flavoNh4Fit,  xd:[-2.1,0.95], xt:nh4Ticks, yd:[-1.04,1.1], yt:[-1,-0.5,0,0.5,1], xl:"log NH<sub>4</sub>", yl:"s(log NH<sub>4</sub>; 0.97)"},
  // SAR86
  {c:2, box:[347,61,447,148], pts:sar86DicPts,  fit:sar86DicFit,  xd:[1880,2214], xt:dicTicks, yd:[-0.94,1.9], yt:[0,1], xl:"DIC", yl:"s(DIC; 4.99)"},
  {c:2, box:[348,203,447,295], pts:sar86TempPts, fit:sar86TempFit, xd:[3.118,3.386], xt:tempTicks, yd:[-1.23,1.29], yt:[-1,-0.5,0,0.5,1], xl:"log Temp", yl:"s(log Temp; 3.37)"},
  {c:2, box:[350,357,450,448], pts:sar86Po4Pts,  fit:sar86Po4Fit,  xd:[-4.87,0.13], xt:po4Ticks, yd:[-0.96,1.07], yt:[-0.5,0,0.5,1], xl:"log PO<sub>4</sub>", yl:"s(log PO<sub>4</sub>; 1.91)"},
  {c:2, box:[351,510,450,602], pts:sar86OxyPts,  fit:sar86OxyFit,  xd:[96,235], xt:oxyTicks, yd:[-0.94,1.07], yt:[-0.5,0,0.5,1], xl:"Oxy", yl:"s(Oxy; 1.84)"},
  {c:2, box:[351,657,450,750], pts:sar86PhPts,   fit:sar86PhFit,   xd:[7.85,8.185], xt:phTicks, yd:[-1.04,1.09], yt:[-1,-0.5,0,0.5,1], xl:"pH", yl:"s(pH; 0.8)"},
  // Prochlo
  {c:3, box:[491,61,591,151], pts:prochloPhPts,  fit:prochloPhFit,  xd:[7.856,8.164], xt:phTicks, yd:[-5.8,8.6], yt:[-5,0,5], xl:"pH", yl:"s(pH; 5.58)"},
  {c:3, box:[490,202,592,293], pts:prochloPo4Pts, fit:prochloPo4Fit, xd:[-4.9,-0.03], xt:po4TicksD, yd:[-5.4,3.3], yt:[-4,-2,0,2], xl:"log PO<sub>4</sub>", yl:"s(log PO<sub>4</sub>; 3.08)"},
  {c:3, box:[492,357,592,447], pts:prochloTempPts, fit:prochloTempFit, xd:[3.152,3.405], xt:tempTicksD, yd:[-4.87,3.8], yt:[-4,-2,0,2], xl:"log Temp", yl:"s(log Temp; 2.87)"},
  {c:3, box:[492,509,593,598], pts:prochloSalPts, fit:prochloSalFit, xd:[3.222,3.615], xt:salTicks, yd:[-10.55,4.28], yt:[-10,-5,0], xl:"log Sal", yl:"s(log Sal; 0.99)"},
  {c:3, box:[492,657,592,747], pts:prochloOxyPts, fit:prochloOxyFit, xd:[96,235], xt:oxyTicks, yd:[-4.95,3.6], yt:[-4,-2,0,2], xl:"Oxy", yl:"s(Oxy; 0.89)"},
  // Synecho
  {c:4, box:[628,61,725,148], pts:synechoDicPts,  fit:synechoDicFit,  xd:[1880,2218], xt:dicTicks, yd:[-3.1,2.05], yt:[-3,-2,-1,0,1,2], xl:"DIC", yl:"s(DIC; 4.33)"},
  {c:4, box:[630,203,725,293], pts:synechoPo4Pts,  fit:synechoPo4Fit,  xd:[-4.85,0.15], xt:po4Ticks, yd:[-2.97,2.15], yt:[-2,-1,0,1,2], xl:"log PO<sub>4</sub>", yl:"s(log PO<sub>4</sub>; 3.18)"},
  {c:4, box:[630,355,725,445], pts:synechoSalPts,  fit:synechoSalFit,  xd:[3.228,3.615], xt:salTicks, yd:[-3.45,5.3], yt:[-2,0,2,4], xl:"log Sal", yl:"s(log Sal; 2.44)"},
  {c:4, box:[632,508,725,597], pts:synechoNo3Pts,  fit:synechoNo3Fit,  xd:[-4.48,2.17], xt:no3Ticks, yd:[-2.8,2.19], yt:[-2,-1,0,1,2], xl:"log NO<sub>3</sub>", yl:"s(log NO<sub>3</sub>; 2.16)"},
  {c:4, box:[630,655,724,743], pts:synechoTempPts, fit:synechoTempFit, xd:[3.141,3.395], xt:tempTicks, yd:[-2.82,1.91], yt:[-2,-1,0,1], xl:"log Temp", yl:"s(log Temp; 1.64)"}
];

const FONT = '"Liberation Sans", Arial, Helvetica, sans-serif';
const fig = document.getElementById("fig");

// canvas used to size tick labels so the y titles sit just left of them
const ctx = document.createElement("canvas").getContext("2d");
ctx.font = "10.5px " + FONT;
const fmt = (d) => String(d);

// minor grid lines sit halfway between the major breaks
function minorBreaks(ticks, [lo, hi]) {
  const step = ticks.length > 1 ? ticks[1] - ticks[0] : 1;
  const out = [];
  for (let i = -1; i < ticks.length; i++) {
    const v = +(ticks[0] + (i + 0.5) * step).toFixed(6);
    if (v > lo && v < hi) out.push(v);
  }
  return out;
}

function addLabel(html, cls, left, top) {
  const el = document.createElement("div");
  el.className = "lbl " + cls;
  el.innerHTML = html;
  el.style.left = left + "px";
  el.style.top = top + "px";
  fig.appendChild(el);
  return el;
}

function drawPanel(p) {
  const [L, T, R, B] = p.box;
  const W = R - L, H = B - T;
  const mL = 42, mR = 6, mT = 4, mB = 22;
  const pts = p.pts.map(([x, y]) => ({x, y}));
  const fit = p.fit.map(([x, f, lo, hi]) => ({x, f, lo, hi}));
  const gridStyle = {stroke: "#e8e8e8", strokeOpacity: 1, strokeWidth: 1.1};
  const minorStyle = {stroke: "#f1f1f1", strokeOpacity: 1, strokeWidth: 0.6};
  const svg = Plot.plot({
    width: W + mL + mR,
    height: H + mT + mB,
    marginLeft: mL, marginRight: mR, marginTop: mT, marginBottom: mB,
    style: {background: "transparent", fontFamily: FONT, fontSize: "10.5px", overflow: "visible"},
    x: {domain: p.xd, label: null},
    y: {domain: p.yd, label: null},
    marks: [
      Plot.gridX(minorBreaks(p.xt, p.xd), minorStyle),
      Plot.gridY(minorBreaks(p.yt, p.yd), minorStyle),
      Plot.gridX(p.xt, gridStyle),
      Plot.gridY(p.yt, gridStyle),
      Plot.areaY(fit, {x: "x", y1: "lo", y2: "hi", fill: bandColors[p.c], fillOpacity: 0.9, curve: "catmull-rom"}),
      Plot.dot(pts, {x: "x", y: "y", r: 2.9, fill: "#111", fillOpacity: 0.62, stroke: "none"}),
      Plot.line(fit, {x: "x", y: "f", stroke: "#000", strokeWidth: 1.7, curve: "catmull-rom"}),
      Plot.ruleX(pts, {x: "x", insetTop: H - 3, stroke: "#000", strokeWidth: 0.8}),
      Plot.frame({stroke: "#8a8a8a", strokeWidth: 1.1}),
      Plot.axisX(p.xt, {tickSize: 3, tickPadding: 1.5, tickFormat: fmt, stroke: "#8a8a8a", fill: "#3a3a3a", label: null, fontSize: 10.5}),
      Plot.axisY(p.yt, {tickSize: 3, tickPadding: 1.5, tickFormat: fmt, stroke: "#8a8a8a", fill: "#3a3a3a", label: null, fontSize: 10.5})
    ]
  });
  svg.style.left = (L - mL) + "px";
  svg.style.top = (T - mT) + "px";
  fig.appendChild(svg);

  // axis titles
  addLabel(p.xl, "xt", (L + R) / 2 + 2, B + 27);
  const tw = Math.max(...p.yt.map((t) => ctx.measureText(fmt(t)).width));
  addLabel(p.yl, "yt", L - tw - 15, (T + B) / 2);
}

panels.forEach(drawPanel);

// column letters and taxon titles
const tagX = [23, 170, 305, 460, 607];
columnTags.forEach((t, i) => addLabel(t, "tag", tagX[i], 3));
const firstRow = panels.filter((p) => p.box[1] < 100).sort((a, b) => a.c - b.c);
columnTaxa.forEach((t, i) => {
  const el = addLabel(t, "ttl", firstRow[i].box[0] - 1, 42);
  if (i >= 3) el.style.fontStyle = "italic";
});
</script>
</body>
</html>
